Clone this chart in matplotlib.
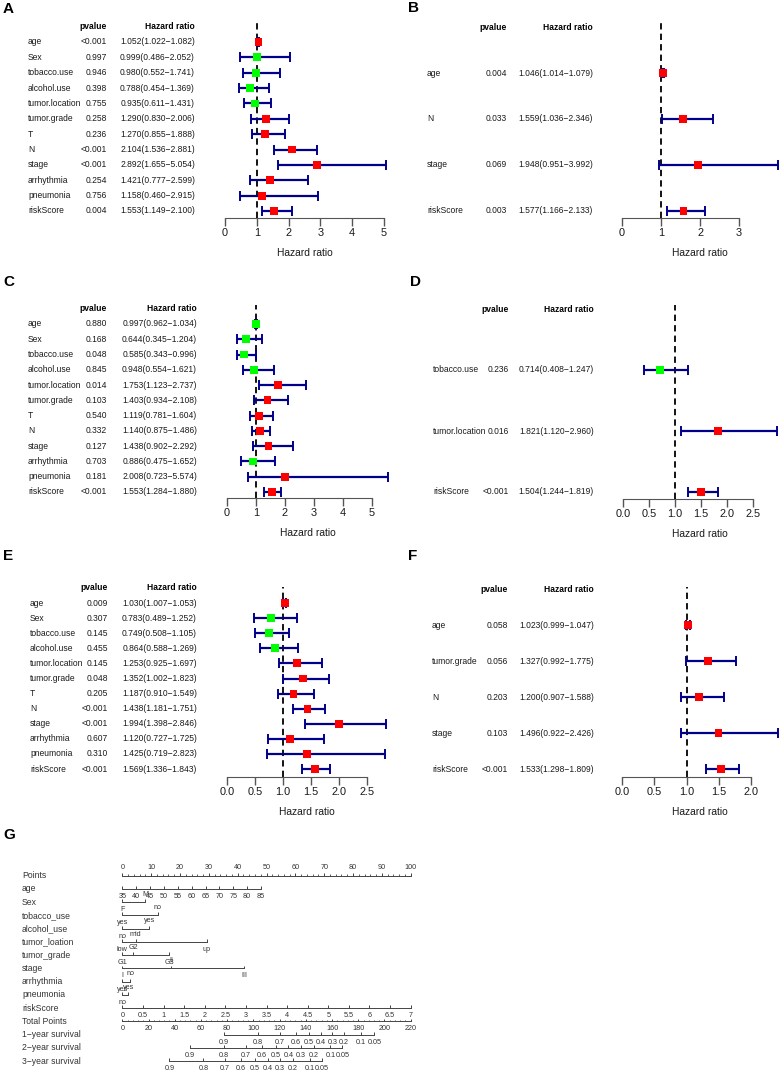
import numpy as np
import matplotlib.pyplot as plt
from matplotlib import font_manager
from matplotlib.transforms import blended_transform_factory as blend

names = {f.name for f in font_manager.fontManager.ttflist}
if 'Liberation Sans Narrow' in names:
    FONT, K = 'Liberation Sans Narrow', 1.0
else:
    FONT, K = 'Liberation Sans', 0.84
plt.rcParams['font.family'] = [FONT, 'DejaVu Sans']

W, H = 779, 1073

# ---- forest plot data
a_vars = ['age', 'Sex', 'tobacco.use', 'alcohol.use', 'tumor.location', 'tumor.grade',
          'T', 'N', 'stage', 'arrhythmia', 'pneumonia', 'riskScore']
a_p = ['<0.001', '0.997', '0.946', '0.398', '0.755', '0.258', '0.236', '<0.001', '<0.001',
       '0.254', '0.756', '0.004']
a_hr = [1.052, 0.999, 0.980, 0.788, 0.935, 1.290, 1.270, 2.104, 2.892, 1.421, 1.158, 1.553]
a_lo = [1.022, 0.486, 0.552, 0.454, 0.611, 0.830, 0.855, 1.536, 1.655, 0.777, 0.460, 1.149]
a_hi = [1.082, 2.052, 1.741, 1.369, 1.431, 2.006, 1.888, 2.881, 5.054, 2.599, 2.915, 2.100]
a_ticks = [0, 1, 2, 3, 4, 5]

b_vars = ['age', 'N', 'stage', 'riskScore']
b_p = ['0.004', '0.033', '0.069', '0.003']
b_hr = [1.046, 1.559, 1.948, 1.577]
b_lo = [1.014, 1.036, 0.951, 1.166]
b_hi = [1.079, 2.346, 3.992, 2.133]
b_ticks = [0, 1, 2, 3]

c_vars = a_vars
c_p = ['0.880', '0.168', '0.048', '0.845', '0.014', '0.103', '0.540', '0.332', '0.127',
       '0.703', '0.181', '<0.001']
c_hr = [0.997, 0.644, 0.585, 0.948, 1.753, 1.403, 1.119, 1.140, 1.438, 0.886, 2.008, 1.553]
c_lo = [0.962, 0.345, 0.343, 0.554, 1.123, 0.934, 0.781, 0.875, 0.902, 0.475, 0.723, 1.284]
c_hi = [1.034, 1.204, 0.996, 1.621, 2.737, 2.108, 1.604, 1.486, 2.292, 1.652, 5.574, 1.880]
c_ticks = [0, 1, 2, 3, 4, 5]

d_vars = ['tobacco.use', 'tumor.location', 'riskScore']
d_p = ['0.236', '0.016', '<0.001']
d_hr = [0.714, 1.821, 1.504]
d_lo = [0.408, 1.120, 1.244]
d_hi = [1.247, 2.960, 1.819]
d_ticks = [0, 0.5, 1, 1.5, 2, 2.5]

e_vars = a_vars
e_p = ['0.009', '0.307', '0.145', '0.455', '0.145', '0.048', '0.205', '<0.001', '<0.001',
       '0.607', '0.310', '<0.001']
e_hr = [1.030, 0.783, 0.749, 0.864, 1.253, 1.352, 1.187, 1.438, 1.994, 1.120, 1.425, 1.569]
e_lo = [1.007, 0.489, 0.508, 0.588, 0.925, 1.002, 0.910, 1.181, 1.398, 0.727, 0.719, 1.336]
e_hi = [1.053, 1.252, 1.105, 1.269, 1.697, 1.823, 1.549, 1.751, 2.846, 1.725, 2.823, 1.843]
e_ticks = [0, 0.5, 1, 1.5, 2, 2.5]

f_vars = ['age', 'tumor.grade', 'N', 'stage', 'riskScore']
f_p = ['0.058', '0.056', '0.203', '0.103', '<0.001']
f_hr = [1.023, 1.327, 1.200, 1.496, 1.533]
f_lo = [0.999, 0.992, 0.907, 0.922, 1.298]
f_hi = [1.047, 1.775, 1.588, 2.426, 1.809]
f_ticks = [0, 0.5, 1, 1.5, 2]

# ---- nomogram data (positions on the 0-100 points scale)
points_ticks = [0, 10, 20, 30, 40, 50, 60, 70, 80, 90, 100]
age_ticks = [35, 40, 45, 50, 55, 60, 65, 70, 75, 80, 85]
age_max_points = 48.1
sex_levels, sex_points = ['F', 'M'], [0, 7.9]
tobacco_levels, tobacco_points = ['yes', 'no'], [0, 12.3]
alcohol_levels, alcohol_points = ['no', 'yes'], [0, 9.3]
location_levels, location_points = ['low', 'mid', 'up'], [0, 4.6, 29.3]
grade_levels, grade_points = ['G1', 'G2', 'G3'], [0, 3.8, 16.3]
stage_levels, stage_points = ['I', 'II', 'III'], [0, 16.9, 42.2]
arrhythmia_levels, arrhythmia_points = ['yes', 'no'], [0, 2.7]
pneumonia_levels, pneumonia_points = ['no', 'yes'], [0, 2.1]
risk_ticks = [0, 0.5, 1, 1.5, 2, 2.5, 3, 3.5, 4, 4.5, 5, 5.5, 6, 6.5, 7]
risk_max_points = 100
total_ticks = [0, 20, 40, 60, 80, 100, 120, 140, 160, 180, 200, 220]
total_max = 220
surv_labels = ['0.9', '0.8', '0.7', '0.6', '0.5', '0.4', '0.3', '0.2', '0.1', '0.05']
surv1_total = [77.6, 103.6, 120.1, 132.5, 142.6, 151.5, 160.2, 169.2, 181.8, 192.2]
surv2_total = [51.6, 77.8, 94.0, 106.4, 117.0, 126.7, 136.2, 146.2, 158.7, 167.8]
surv3_total = [35.9, 61.9, 78.2, 90.6, 101.2, 110.9, 120.4, 130.4, 142.9, 152.0]

fig = plt.figure(figsize=(W / 100, H / 100), dpi=100)
TXT = '#1a1a1a'


def letter(ch, x, y):
    fig.text(x / W, 1 - y / H, ch, fontsize=11, fontweight='bold',
             family='Liberation Sans', ha='left', va='center')


def forest(vars_, pv, hr, lo, hi, ticks, fmt, geo):
    x0, unit, row0, step, axis_y, top_y, label_x, p_x, hr_x = geo
    xmax = max(hi)
    ax = fig.add_axes([x0 / W, 1 - axis_y / H, xmax * unit / W, (axis_y - top_y) / H])
    ax.set_xlim(0, xmax)
    ax.set_ylim((axis_y - row0) / step, (top_y - row0) / step)
    ax.patch.set_visible(False)
    hr, lo, hi = np.array(hr), np.array(lo), np.array(hi)
    y = np.arange(len(vars_))
    ax.axvline(1, color='black', lw=1.3, ls=(0, (3.5, 2.3)), zorder=1)
    eb = ax.errorbar(hr, y, xerr=[hr - lo, hi - hr], fmt='none', ecolor='#00008B',
                     elinewidth=1.6, capsize=3.3, capthick=1.4, zorder=2)
    for art in eb.get_children():
        art.set_clip_on(False)
    cols = np.where(hr > 1, '#FF0000', '#00FF00')
    ax.scatter(hr, y, marker='s', s=32, c=cols, linewidths=0, zorder=3, clip_on=False)

    for s in ['top', 'right', 'left']:
        ax.spines[s].set_visible(False)
    ax.spines['bottom'].set_bounds(ticks[0], ticks[-1])
    ax.spines['bottom'].set_color('#555555')
    ax.set_yticks([])
    ax.set_xticks(ticks)
    ax.set_xticklabels([fmt % t for t in ticks])
    ax.tick_params(axis='x', length=6, width=1, color='#555555', labelsize=9.4 * K,
                   pad=1.5, labelcolor=TXT)

    tr = blend(fig.transFigure, ax.transData)
    fs = 7.3 * K
    for i, v in enumerate(vars_):
        ax.text(label_x / W, i, v, transform=tr, ha='left', va='center', fontsize=fs, color=TXT)
        ax.text(p_x / W, i, pv[i], transform=tr, ha='right', va='center', fontsize=fs, color=TXT)
        ax.text(hr_x / W, i, '%.3f(%.3f\u2212%.3f)' % (hr[i], lo[i], hi[i]), transform=tr,
                ha='right', va='center', fontsize=fs, color=TXT)
    ax.text(p_x / W, -1, 'pvalue', transform=tr, ha='right', va='center', fontsize=fs,
            fontweight='bold')
    ax.text(hr_x / W, -1, 'Hazard ratio', transform=tr, ha='right', va='center', fontsize=fs,
            fontweight='bold')
    ax.text(0.5, 1 - (axis_y + 35) / H, 'Hazard ratio',
            transform=blend(ax.transAxes, fig.transFigure),
            ha='center', va='center', fontsize=8.8 * K, color=TXT)


letter('A', 3, 9)
forest(a_vars, a_p, a_hr, a_lo, a_hi, a_ticks, '%d',
       (225, 31.8, 42, 15.36, 218, 23, 28, 107, 195))
letter('B', 408, 8)
forest(b_vars, b_p, b_hr, b_lo, b_hi, b_ticks, '%d',
       (622, 39.0, 73, 45.9, 218, 23, 427, 507, 593))
letter('C', 3, 282)
forest(c_vars, c_p, c_hr, c_lo, c_hi, c_ticks, '%d',
       (227, 28.9, 324, 15.27, 498, 305, 28, 107, 197))
letter('D', 410, 282)
forest(d_vars, d_p, d_hr, d_lo, d_hi, d_ticks, '%.1f',
       (623, 52.0, 370, 61.0, 499, 305, 433, 509, 594))
letter('E', 3, 556)
forest(e_vars, e_p, e_hr, e_lo, e_hi, e_ticks, '%.1f',
       (227, 56.0, 603, 15.1, 777, 587, 30, 108, 197))
letter('F', 408, 556)
forest(f_vars, f_p, f_hr, f_lo, f_hi, f_ticks, '%.1f',
       (622, 64.5, 625, 36.0, 777, 587, 432, 508, 594))

# ---- nomogram (G)
letter('G', 3, 835)
NX0, NX1 = 122.3, 410.7
nax = fig.add_axes([NX0 / W, 0, (NX1 - NX0) / W, 1 - 850 / H])
nax.set_xlim(0, 100)
nax.set_ylim(H, 850)
nax.axis('off')
LC = '#444444'
NT = '#333333'
tick_fs = 6.2 * K
ntr = blend(fig.transFigure, nax.transData)
row_names = ['Points', 'age', 'Sex', 'tobacco_use', 'alcohol_use', 'tumor_loation',
             'tumor_grade', 'stage', 'arrhythmia', 'pneumonia', 'riskScore', 'Total Points',
             '1\u2212year survival', '2\u2212year survival', '3\u2212year survival']
row_y = [875.5 + 13.26 * i for i in range(len(row_names))]
for name, yy in zip(row_names, row_y):
    nax.text(22 / W, yy, name, transform=ntr, ha='left', va='center', fontsize=7.4 * K, color=NT)


def naxis(yy, pos, labels, sides, minor=None):
    nax.plot([min(pos), max(pos)], [yy, yy], color=LC, lw=0.7, clip_on=False)
    nax.vlines(pos, yy - 2.8, yy, color=LC, lw=0.7, clip_on=False)
    if minor is not None:
        nax.vlines(minor, yy - 1.4, yy, color=LC, lw=0.6, clip_on=False)
    for p, lab, sd in zip(pos, labels, sides):
        off = -7.8 if sd == 'above' else 7.6
        nax.text(p, yy + off, lab, ha='center', va='center', fontsize=tick_fs, color=NT,
                 clip_on=False)


def alt(n):
    return ['below' if i % 2 == 0 else 'above' for i in range(n)]


naxis(row_y[0], points_ticks, [str(t) for t in points_ticks], ['above'] * len(points_ticks),
      minor=np.arange(0, 101, 2))
age_pos = [(a - age_ticks[0]) / (age_ticks[-1] - age_ticks[0]) * age_max_points for a in age_ticks]
naxis(row_y[1], age_pos, [str(a) for a in age_ticks], ['below'] * len(age_ticks))
cats = [(sex_levels, sex_points), (tobacco_levels, tobacco_points),
        (alcohol_levels, alcohol_points), (location_levels, location_points),
        (grade_levels, grade_points), (stage_levels, stage_points),
        (arrhythmia_levels, arrhythmia_points), (pneumonia_levels, pneumonia_points)]
for k, (levs, pts) in enumerate(cats):
    naxis(row_y[2 + k], pts, levs, alt(len(levs)))
risk_pos = [r / risk_ticks[-1] * risk_max_points for r in risk_ticks]
naxis(row_y[10], risk_pos, ['%g' % r for r in risk_ticks], ['below'] * len(risk_ticks))
tot_pos = [t / total_max * 100 for t in total_ticks]
naxis(row_y[11], tot_pos, [str(t) for t in total_ticks], ['below'] * len(total_ticks),
      minor=np.arange(0, 101, 4 / total_max * 100))
for k, surv in enumerate([surv1_total, surv2_total, surv3_total]):
    naxis(row_y[12 + k], [s / total_max * 100 for s in surv], surv_labels,
          ['below'] * len(surv_labels))

fig.savefig('out.png', dpi=100)
